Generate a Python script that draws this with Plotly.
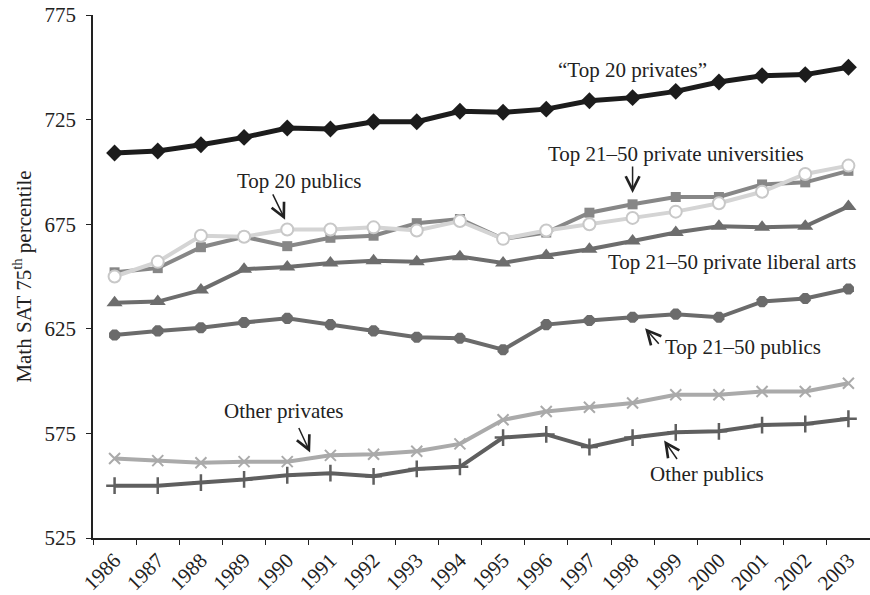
"""Math SAT 75th percentile by school group, 1986-2003."""

import plotly.graph_objects as go

years = [str(y) for y in range(1986, 2004)]

top20_privates = [709, 710, 713, 716.5, 721, 720.5, 724, 724, 729, 728.5,
                  730, 734, 735.5, 738.5, 743, 746, 746.5, 750]
top21_50_priv_univ = [652, 654, 664, 669, 664.5, 668.5, 669.5, 675.5, 677.5, 668,
                      671, 680.5, 684.5, 688, 688, 694, 695, 700.5]
top20_publics = [650, 657, 669.5, 669, 672.5, 672.5, 673.5, 672, 676.5, 668,
                 672, 675, 678, 681, 685, 690.5, 699, 703]
top21_50_lib_arts = [637.5, 638, 643.5, 653.5, 654.5, 656.5, 657.5, 657, 659.5, 656.5,
                     660, 663, 667, 671, 674, 673.5, 674, 683.5]
top21_50_publics = [622, 624, 625.5, 628, 630, 627, 624, 621, 620.5, 615,
                    627, 629, 630.5, 632, 630.5, 638, 639.5, 644]
other_privates = [563, 562, 561, 561.5, 561.5, 564.5, 565, 566.5, 570, 581.5,
                  585.5, 587.5, 589.5, 593.5, 593.5, 595, 595, 599]
other_publics = [550, 550, 551.5, 553, 555, 556, 554.5, 558, 559, 573,
                 574.5, 568.5, 573, 575.5, 576, 579, 579.5, 582]

FONT = "Liberation Serif"
TXT = "#222222"

fig = go.Figure()


def add_series(values, name, color, symbol, size, mcolor=None, mline=None, width=4):
    fig.add_trace(
        go.Scatter(
            x=years,
            y=values,
            name=name,
            mode="lines+markers",
            line=dict(color=color, width=width),
            marker=dict(
                symbol=symbol,
                size=size,
                color=mcolor or color,
                line=mline or dict(width=0),
            ),
        )
    )


add_series(other_publics, "Other publics", "#5f5f5f", "cross-thin", 12,
           mline=dict(color="#5f5f5f", width=2.5))
add_series(other_privates, "Other privates", "#aaaaaa", "x-thin", 11,
           mline=dict(color="#aaaaaa", width=2))
add_series(top21_50_publics, "Top 21-50 publics", "#6b6b6b", "octagon", 12)
add_series(top21_50_lib_arts, "Top 21-50 private liberal arts", "#6d6d6d", "triangle-up", 14)
add_series(top21_50_priv_univ, "Top 21-50 private universities", "#878787", "square", 10)
add_series(top20_publics, "Top 20 publics", "#d4d4d4", "circle", 12,
           mcolor="white", mline=dict(color="#c8c8c8", width=2))
add_series(top20_privates, "Top 20 privates", "#1c1c1c", "diamond", 13, width=5)

# labels (x = category index, y = value)
labels = [
    ("\u201cTop 20 privates\u201d", 12.0, 748.9),
    ("Top 20 publics", 4.29, 695.6),
    ("Top 21\u201350 private universities", 13.0, 708.5),
    ("Top 21\u201350 private liberal arts", 14.3, 657.1),
    ("Top 21\u201350 publics", 14.56, 616.3),
    ("Other privates", 3.92, 585.8),
    ("Other publics", 13.73, 555.4),
]
for text, lx, ly in labels:
    fig.add_annotation(x=lx, y=ly, text=text, showarrow=False,
                       font=dict(family=FONT, size=21, color=TXT))

# arrows: tip position and pixel offset of the tail
arrows = [
    (3.95, 677.1, -13, -27),
    (12.0, 689.9, 0, -28),
    (12.29, 625.3, 15, 17),
    (4.53, 565.9, -12, -26),
    (12.73, 571.6, 14, 20),
]
for tx, ty, ax, ay in arrows:
    fig.add_annotation(x=tx, y=ty, ax=ax, ay=ay, text="", showarrow=True,
                       arrowhead=5, arrowsize=1.8, arrowwidth=1.5, arrowcolor=TXT)

fig.update_layout(
    width=870,
    height=595,
    margin=dict(l=93, r=0, t=15, b=54),
    plot_bgcolor="white",
    paper_bgcolor="white",
    showlegend=False,
    font=dict(family=FONT, size=20, color=TXT),
)
fig.update_xaxes(
    type="category",
    tickson="boundaries",
    ticks="outside",
    ticklen=5,
    tickcolor="#222",
    tickangle=-45,
    showline=True,
    linecolor="#222",
    linewidth=1.5,
    showgrid=False,
    range=[-0.5, 17.5],
    tickfont=dict(family=FONT, size=21, color=TXT),
)
fig.update_yaxes(
    range=[525, 775],
    tickvals=[525, 575, 625, 675, 725, 775],
    ticks="outside",
    ticklen=5,
    tickcolor="#222",
    ticklabelstandoff=6,
    showline=True,
    linecolor="#222",
    linewidth=1.5,
    showgrid=False,
    zeroline=False,
    tickfont=dict(family=FONT, size=21, color=TXT),
    title=dict(text="Math SAT 75<sup>th</sup> percentile",
               font=dict(family=FONT, size=21, color=TXT), standoff=7),
)

fig.write_html(
    "out.html",
    config={"displayModeBar": False},
    post_script="document.body.style.margin='0';",
)
